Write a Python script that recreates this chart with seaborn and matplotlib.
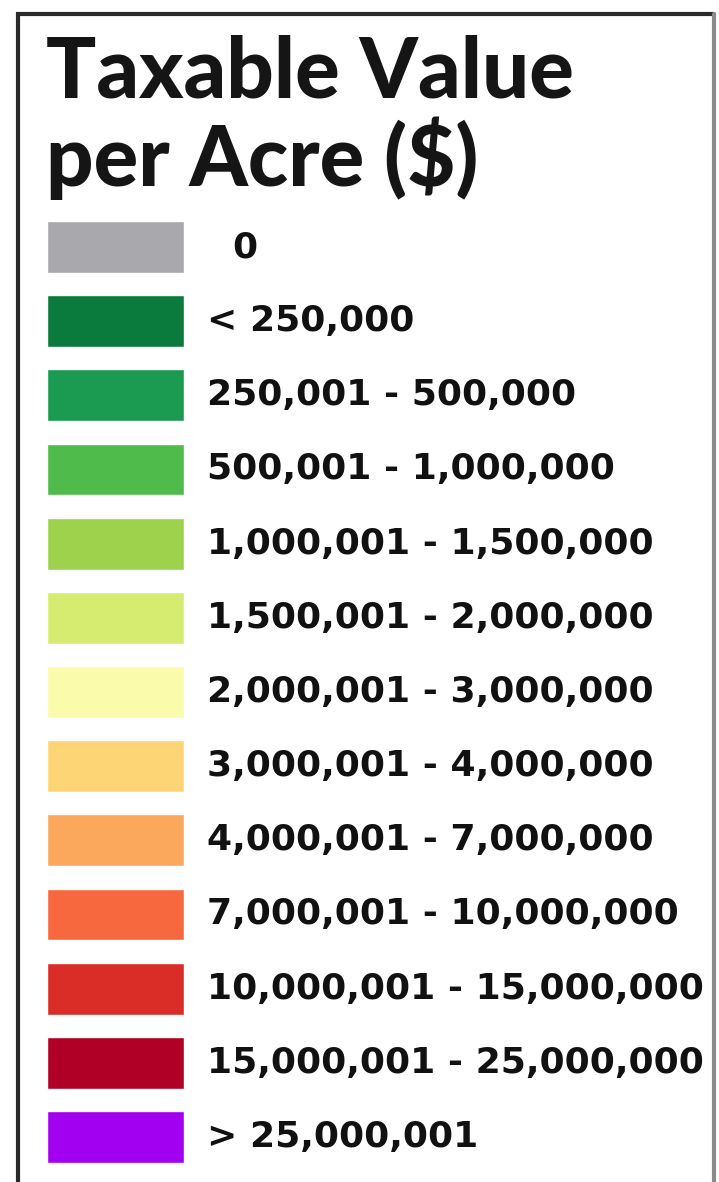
import matplotlib
matplotlib.use('Agg')
import matplotlib.pyplot as plt
import matplotlib.transforms as mtransforms
import pandas as pd
import seaborn as sns

# Legend classes and their swatch colours
class_labels = ['0', '< 250,000', '250,001 - 500,000', '500,001 - 1,000,000',
                '1,000,001 - 1,500,000', '1,500,001 - 2,000,000',
                '2,000,001 - 3,000,000', '3,000,001 - 4,000,000',
                '4,000,001 - 7,000,000', '7,000,001 - 10,000,000',
                '10,000,001 - 15,000,000', '15,000,001 - 25,000,000',
                '> 25,000,001']
class_colors = ['#a9a8ad', '#0b7a3d', '#1b9a52', '#4fbb4a', '#9ed24c',
                '#d6ec70', '#fafcac', '#fdd574', '#fca85c', '#f8683e',
                '#db2d27', '#b00025', '#a200f0']
swatch_size = [1] * len(class_labels)
title_lines = ['Taxable Value', 'per Acre ($)']

sns.set_theme(style='white')
plt.rcParams['font.family'] = ['DejaVu Sans']

W, H = 719, 1182
fig = plt.figure(figsize=(W / 100, H / 100), dpi=100)
fig.patch.set_facecolor('white')

# frame around the legend (open at the bottom)
frame = fig.add_axes([0, 0, 1, 1])
frame.set_xlim(0, W)
frame.set_ylim(H, 0)
frame.axis('off')
frame.plot([18, 18, 714], [H + 5, 14, 14], color='#2a2a2a',
           lw=3, solid_joinstyle='miter')
frame.plot([714, 714], [14, H + 5], color='#8a8a8a', lw=3)
for line, base in zip(title_lines, [98, 186]):
    frame.text(46, base, line, fontsize=60, fontweight='black',
               color='#151515', va='baseline', ha='left',
               family=['Lato', 'DejaVu Sans'])

# swatch column
sw_left, sw_right = 47, 184
top_c, bot_c = 247, 1137
step = (bot_c - top_c) / (len(class_labels) - 1)
y_top = top_c - step / 2
y_bot = bot_c + step / 2
ax = fig.add_axes([sw_left / W, (H - y_bot) / H,
                   (sw_right - sw_left) / W, (y_bot - y_top) / H])
df = pd.DataFrame({'label': class_labels, 'size': swatch_size})
sns.barplot(data=df, y='label', x='size', hue='label',
            palette=class_colors, orient='h', width=0.7, legend=False,
            saturation=1, ax=ax)
ax.set_xlim(0, 1)
ax.set_ylim(len(class_labels) - 0.5, -0.5)
ax.axis('off')

trans = mtransforms.blended_transform_factory(ax.transAxes, ax.transData)
text_x = (207 - sw_left) / (sw_right - sw_left)
for i, lab in enumerate(class_labels):
    dx = text_x + (25 / (sw_right - sw_left) if lab == '0' else 0)
    ax.text(dx, i, lab, transform=trans, fontsize=26, fontweight='bold',
            color='#111111', va='center', ha='left', clip_on=False,
            family=['DejaVu Sans'])

fig.savefig('out.png', dpi=100)
